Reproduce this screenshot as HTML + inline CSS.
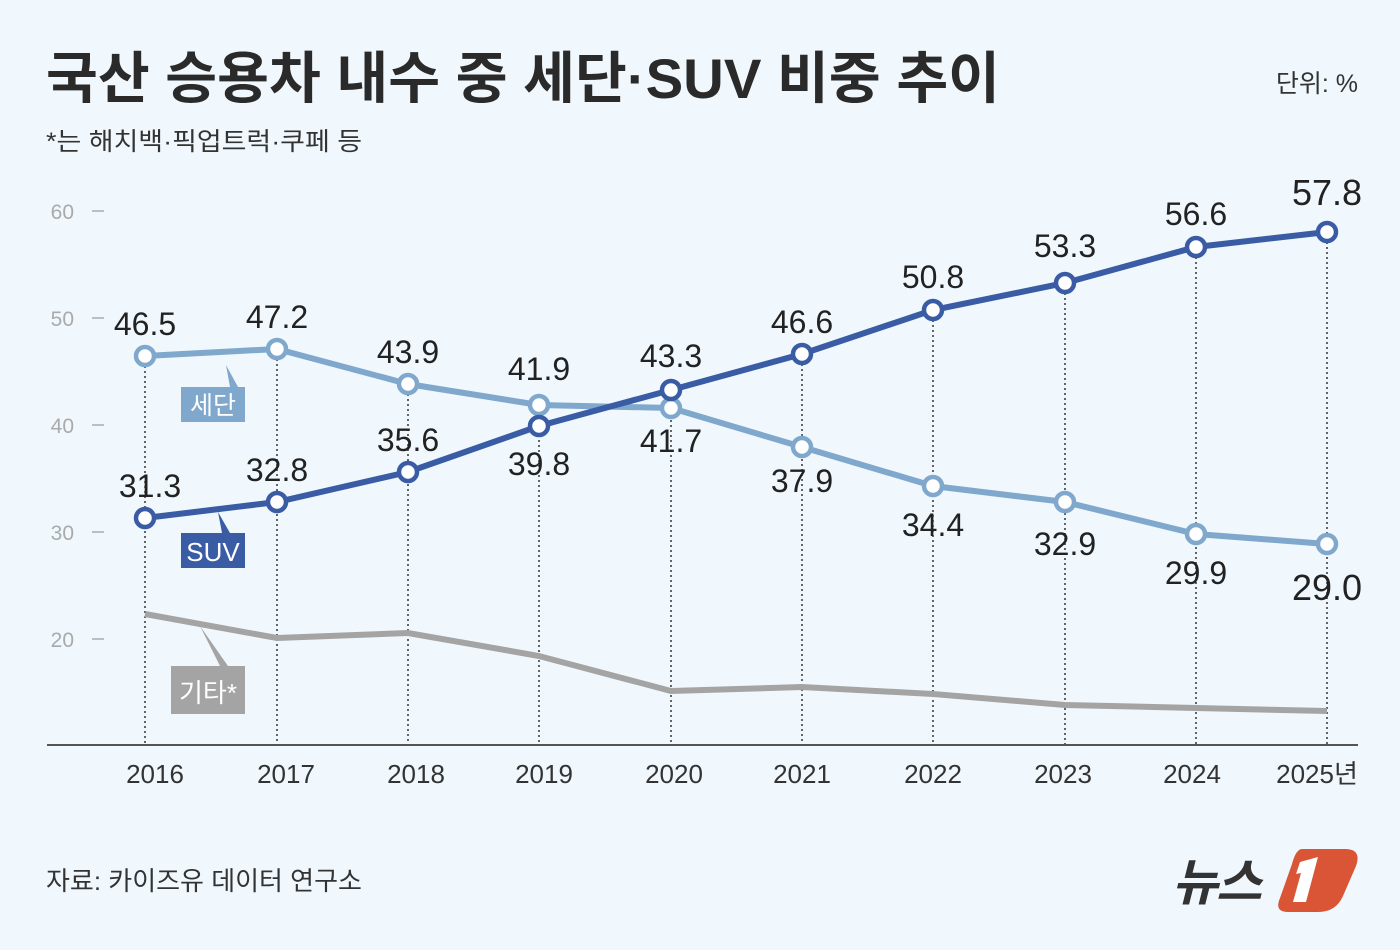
<!DOCTYPE html>
<html><head><meta charset="utf-8"><style>
html,body{margin:0;padding:0;background:#f0f8fd;}
svg{display:block;font-family:"Liberation Sans","Noto Sans CJK KR",sans-serif;}
</style></head><body>
<svg width="1400" height="950" viewBox="0 0 1400 950">
<rect width="1400" height="950" fill="#f0f8fd"/>
<text x="46" y="98" font-size="56" font-weight="bold" fill="#2a2a2a" textLength="954" lengthAdjust="spacingAndGlyphs">국산 승용차 내수 중 세단·SUV 비중 추이</text>
<text x="1358" y="92" font-size="25" fill="#333" text-anchor="end">단위: %</text>
<text x="46" y="150" font-size="25" fill="#333" textLength="316" lengthAdjust="spacingAndGlyphs">*는 해치백·픽업트럭·쿠페 등</text>
<g font-size="21" fill="#aaa" text-anchor="end">
<text x="74" y="219">60</text><text x="74" y="326">50</text><text x="74" y="433">40</text><text x="74" y="540">30</text><text x="74" y="647">20</text>
</g>
<g stroke="#aaa" stroke-width="1.5">
<line x1="92" y1="211" x2="104" y2="211"/><line x1="92" y1="318" x2="104" y2="318"/><line x1="92" y1="425" x2="104" y2="425"/><line x1="92" y1="532" x2="104" y2="532"/><line x1="92" y1="639" x2="104" y2="639"/>
</g>
<g stroke="#333" stroke-width="1.5" stroke-dasharray="2,3">
<line x1="145" y1="356" x2="145" y2="745"/><line x1="277" y1="349" x2="277" y2="745"/><line x1="408" y1="384" x2="408" y2="745"/><line x1="539" y1="405" x2="539" y2="745"/><line x1="671" y1="390" x2="671" y2="745"/><line x1="802" y1="354" x2="802" y2="745"/><line x1="933" y1="310" x2="933" y2="745"/><line x1="1065" y1="283" x2="1065" y2="745"/><line x1="1196" y1="247" x2="1196" y2="745"/><line x1="1327" y1="232" x2="1327" y2="745"/>
</g>
<line x1="47" y1="745" x2="1358" y2="745" stroke="#555" stroke-width="2"/>
<polyline fill="none" stroke="#a4a4a4" stroke-width="6" points="145,614 277,638 408,633 539,656 671,691 802,687 933,694 1065,705 1196,708 1327,711"/>
<polyline fill="none" stroke="#7fa8cc" stroke-width="6" points="145,356 277,349 408,384 539,405 671,408 802,447 933,486 1065,502 1196,534 1327,544"/>
<polyline fill="none" stroke="#3a5ca4" stroke-width="6" points="145,518 277,502 408,472 539,426 671,390 802,354 933,310 1065,283 1196,247 1327,232"/>
<g fill="#fff" stroke="#7fa8cc" stroke-width="4.5">
<circle cx="145" cy="356" r="9"/><circle cx="277" cy="349" r="9"/><circle cx="408" cy="384" r="9"/><circle cx="539" cy="405" r="9"/><circle cx="671" cy="408" r="9"/><circle cx="802" cy="447" r="9"/><circle cx="933" cy="486" r="9"/><circle cx="1065" cy="502" r="9"/><circle cx="1196" cy="534" r="9"/><circle cx="1327" cy="544" r="9"/>
</g>
<g fill="#fff" stroke="#3a5ca4" stroke-width="4.5">
<circle cx="145" cy="518" r="9"/><circle cx="277" cy="502" r="9"/><circle cx="408" cy="472" r="9"/><circle cx="539" cy="426" r="9"/><circle cx="671" cy="390" r="9"/><circle cx="802" cy="354" r="9"/><circle cx="933" cy="310" r="9"/><circle cx="1065" cy="283" r="9"/><circle cx="1196" cy="247" r="9"/><circle cx="1327" cy="232" r="9"/>
</g>
<g font-size="32" fill="#222" text-anchor="middle">
<text x="145" y="335">46.5</text><text x="277" y="328">47.2</text><text x="408" y="363">43.9</text><text x="539" y="380">41.9</text><text x="671" y="452">41.7</text><text x="802" y="492">37.9</text><text x="933" y="536">34.4</text><text x="1065" y="555">32.9</text><text x="1196" y="584">29.9</text><text x="1327" y="600" font-size="36">29.0</text>
<text x="150" y="497">31.3</text><text x="277" y="481">32.8</text><text x="408" y="451">35.6</text><text x="539" y="475">39.8</text><text x="671" y="367">43.3</text><text x="802" y="333">46.6</text><text x="933" y="288">50.8</text><text x="1065" y="257">53.3</text><text x="1196" y="225">56.6</text><text x="1327" y="205" font-size="36">57.8</text>
</g>
<polygon points="226,365 238,387 245,387 245,422 181,422 181,387 230,387" fill="#7fa8cc"/>
<text x="213" y="414" font-size="25" fill="#fff" text-anchor="middle">세단</text>
<polygon points="218,512 230,533 245,533 245,568 181,568 181,533 222,533" fill="#3a5ca4"/>
<text x="213" y="561" font-size="26" fill="#fff" text-anchor="middle">SUV</text>
<polygon points="200,626 228,666 245,666 245,714 171,714 171,666 220,666" fill="#a4a4a4"/>
<rect x="171" y="666" width="74" height="48" fill="#a4a4a4"/>
<text x="208" y="702" font-size="26" fill="#fff" text-anchor="middle">기타*</text>
<g font-size="26" fill="#333" text-anchor="middle">
<text x="155" y="783">2016</text><text x="286" y="783">2017</text><text x="416" y="783">2018</text><text x="544" y="783">2019</text><text x="674" y="783">2020</text><text x="802" y="783">2021</text><text x="933" y="783">2022</text><text x="1063" y="783">2023</text><text x="1192" y="783">2024</text><text x="1317" y="783">2025년</text>
</g>
<text x="46" y="890" font-size="26" fill="#333">자료: 카이즈유 데이터 연구소</text>
<text x="1172" y="900" font-size="50" font-weight="bold" fill="#333" font-style="italic" letter-spacing="-2">뉴스</text>
<path d="M1302,849 L1345,849 Q1362,849 1356,866 L1343,896 Q1336,912 1318,912 L1288,912 Q1274,912 1280,898 L1292,864 Q1296,849 1302,849 Z" fill="#d95535"/>
<polygon points="1300,862 1318,857 1306,902 1293,902 1301,873 1296,874" fill="#fff"/>
</svg>
</body></html>
